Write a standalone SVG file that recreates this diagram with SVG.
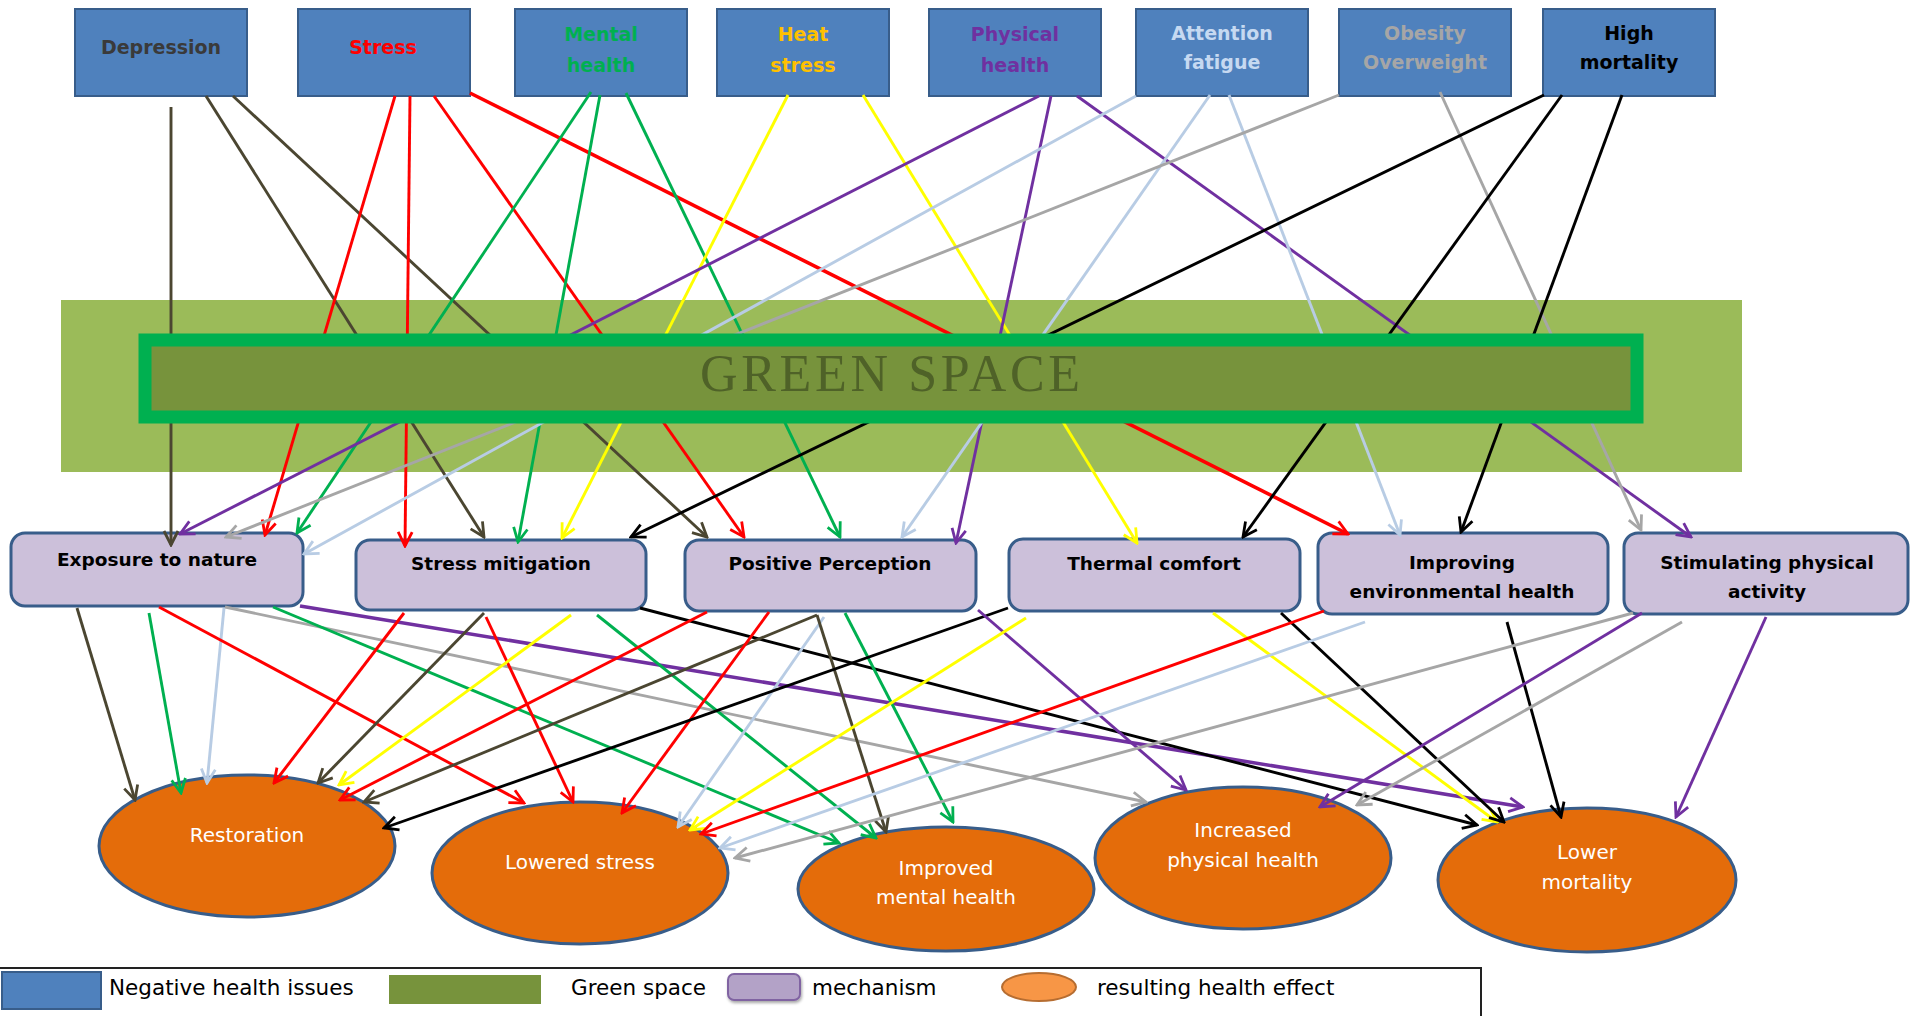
<svg xmlns="http://www.w3.org/2000/svg" width="1910" height="1016" viewBox="0 0 1910 1016">
<style>
.top rect{fill:#4f81bd;stroke:#385d8a;stroke-width:2}
.top text{font-family:"DejaVu Sans",sans-serif;font-weight:bold;font-size:19px;text-anchor:middle}
.mech rect{fill:#ccc0da;stroke:#385d8a;stroke-width:3}
.mech text{font-family:"DejaVu Sans",sans-serif;font-weight:bold;font-size:18.5px;text-anchor:middle;fill:#000}
.eff ellipse{fill:#e46c0a;stroke:#385d8a;stroke-width:3}
.eff text{font-family:"DejaVu Sans",sans-serif;font-size:20px;text-anchor:middle;fill:#fff}
.leg text{font-family:"DejaVu Sans",sans-serif;font-size:21.5px;fill:#000}
#connectors line{stroke-width:2.9;fill:none}
.ol{stroke:#4b4631}.rd{stroke:#ff0000}.gn{stroke:#00b050}.yw{stroke:#ffff00}.pu{stroke:#7030a0}.lb{stroke:#b8cce4}.gy{stroke:#a6a6a6}.bk{stroke:#000}
</style>
<defs>
<marker id="m-ol" markerUnits="userSpaceOnUse" markerWidth="20" markerHeight="20" viewBox="0 0 20 20" refX="18" refY="10" orient="auto"><path d="M4,3 L18,10 L4,17" fill="none" stroke="#4b4631" stroke-width="2.8"/></marker>
<marker id="m-rd" markerUnits="userSpaceOnUse" markerWidth="20" markerHeight="20" viewBox="0 0 20 20" refX="18" refY="10" orient="auto"><path d="M4,3 L18,10 L4,17" fill="none" stroke="#ff0000" stroke-width="2.8"/></marker>
<marker id="m-gn" markerUnits="userSpaceOnUse" markerWidth="20" markerHeight="20" viewBox="0 0 20 20" refX="18" refY="10" orient="auto"><path d="M4,3 L18,10 L4,17" fill="none" stroke="#00b050" stroke-width="2.8"/></marker>
<marker id="m-yw" markerUnits="userSpaceOnUse" markerWidth="20" markerHeight="20" viewBox="0 0 20 20" refX="18" refY="10" orient="auto"><path d="M4,3 L18,10 L4,17" fill="none" stroke="#ffff00" stroke-width="2.8"/></marker>
<marker id="m-pu" markerUnits="userSpaceOnUse" markerWidth="20" markerHeight="20" viewBox="0 0 20 20" refX="18" refY="10" orient="auto"><path d="M4,3 L18,10 L4,17" fill="none" stroke="#7030a0" stroke-width="2.8"/></marker>
<marker id="m-lb" markerUnits="userSpaceOnUse" markerWidth="20" markerHeight="20" viewBox="0 0 20 20" refX="18" refY="10" orient="auto"><path d="M4,3 L18,10 L4,17" fill="none" stroke="#b8cce4" stroke-width="2.8"/></marker>
<marker id="m-gy" markerUnits="userSpaceOnUse" markerWidth="20" markerHeight="20" viewBox="0 0 20 20" refX="18" refY="10" orient="auto"><path d="M4,3 L18,10 L4,17" fill="none" stroke="#a6a6a6" stroke-width="2.8"/></marker>
<marker id="m-bk" markerUnits="userSpaceOnUse" markerWidth="20" markerHeight="20" viewBox="0 0 20 20" refX="18" refY="10" orient="auto"><path d="M4,3 L18,10 L4,17" fill="none" stroke="#000" stroke-width="2.8"/></marker>
<filter id="sh" x="-20%" y="-20%" width="140%" height="160%"><feDropShadow dx="1" dy="2" stdDeviation="1.5" flood-color="#000" flood-opacity="0.35"/></filter>
</defs>
<rect width="1910" height="1016" fill="#fff"/>

<g id="green-band"><rect x="61" y="300" width="1681" height="172" fill="#9bbb59"/></g>

<g id="depression" class="top"><rect x="75" y="9" width="172" height="87"/><text x="161" y="54" fill="#3a3a3a">Depression</text></g>
<g id="stress" class="top"><rect x="298" y="9" width="172" height="87"/><text x="383" y="54" fill="#ff0000">Stress</text></g>
<g id="mental-health" class="top"><rect x="515" y="9" width="172" height="87"/><text x="601" y="41" fill="#00b050">Mental</text><text x="601" y="72" fill="#00b050">health</text></g>
<g id="heat-stress" class="top"><rect x="717" y="9" width="172" height="87"/><text x="803" y="41" fill="#ffc000">Heat</text><text x="803" y="72" fill="#ffc000">stress</text></g>
<g id="physical-health" class="top"><rect x="929" y="9" width="172" height="87"/><text x="1015" y="41" fill="#7030a0">Physical</text><text x="1015" y="72" fill="#7030a0">health</text></g>
<g id="attention-fatigue" class="top"><rect x="1136" y="9" width="172" height="87"/><text x="1222" y="40" fill="#c6d9f1">Attention</text><text x="1222" y="69" fill="#c6d9f1">fatigue</text></g>
<g id="obesity" class="top"><rect x="1339" y="9" width="172" height="87"/><text x="1425" y="40" fill="#a6a6a6">Obesity</text><text x="1425" y="69" fill="#a6a6a6">Overweight</text></g>
<g id="high-mortality" class="top"><rect x="1543" y="9" width="172" height="87"/><text x="1629" y="40" fill="#000">High</text><text x="1629" y="69" fill="#000">mortality</text></g>

<g id="exposure" class="mech"><rect x="11" y="533" width="292" height="73" rx="14"/><text x="157" y="566">Exposure to nature</text></g>
<g id="stress-mitigation" class="mech"><rect x="356" y="540" width="290" height="70" rx="14"/><text x="501" y="570">Stress mitigation</text></g>
<g id="positive-perception" class="mech"><rect x="685" y="540" width="291" height="71" rx="14"/><text x="830" y="570">Positive Perception</text></g>
<g id="thermal-comfort" class="mech"><rect x="1009" y="539" width="291" height="72" rx="14"/><text x="1154" y="570">Thermal comfort</text></g>
<g id="improving-env" class="mech"><rect x="1318" y="533" width="290" height="81" rx="14"/><text x="1462" y="569">Improving</text><text x="1462" y="598">environmental health</text></g>
<g id="stimulating" class="mech"><rect x="1624" y="533" width="284" height="81" rx="14"/><text x="1767" y="569">Stimulating physical</text><text x="1767" y="598">activity</text></g>

<g id="restoration" class="eff"><ellipse cx="247" cy="846" rx="148" ry="71"/><text x="247" y="842">Restoration</text></g>
<g id="lowered-stress" class="eff"><ellipse cx="580" cy="873" rx="148" ry="71"/><text x="580" y="869">Lowered stress</text></g>
<g id="improved-mental" class="eff"><ellipse cx="946" cy="889" rx="148" ry="62"/><text x="946" y="875">Improved</text><text x="946" y="904">mental health</text></g>
<g id="increased-physical" class="eff"><ellipse cx="1243" cy="858" rx="148" ry="71"/><text x="1243" y="837">Increased</text><text x="1243" y="867">physical health</text></g>
<g id="lower-mortality" class="eff"><ellipse cx="1587" cy="880" rx="149" ry="72"/><text x="1587" y="859">Lower</text><text x="1587" y="889">mortality</text></g>

<g id="connectors">
<line class="ol" x1="171" y1="107" x2="171" y2="545" marker-end="url(#m-ol)"/>
<line class="ol" x1="206" y1="96" x2="484" y2="537" marker-end="url(#m-ol)"/>
<line class="ol" x1="233" y1="96" x2="707" y2="537" marker-end="url(#m-ol)"/>
<line class="rd" x1="395" y1="96" x2="265" y2="535" marker-end="url(#m-rd)"/>
<line class="rd" x1="410" y1="96" x2="405" y2="546" marker-end="url(#m-rd)"/>
<line class="rd" x1="434" y1="96" x2="744" y2="537" marker-end="url(#m-rd)"/>
<line class="rd" x1="470" y1="93" x2="1348" y2="534" style="stroke-width:3.6" marker-end="url(#m-rd)"/>
<line class="gn" x1="591" y1="92" x2="297" y2="533" marker-end="url(#m-gn)"/>
<line class="gn" x1="600" y1="95" x2="518" y2="542" marker-end="url(#m-gn)"/>
<line class="gn" x1="626" y1="93" x2="840" y2="537" marker-end="url(#m-gn)"/>
<line class="yw" x1="788" y1="95" x2="562" y2="538" marker-end="url(#m-yw)"/>
<line class="yw" x1="863" y1="95" x2="1137" y2="543" marker-end="url(#m-yw)"/>
<line class="pu" x1="1039" y1="96" x2="180" y2="534" marker-end="url(#m-pu)"/>
<line class="pu" x1="1051" y1="96" x2="956" y2="543" marker-end="url(#m-pu)"/>
<line class="pu" x1="1077" y1="96" x2="1691" y2="537" marker-end="url(#m-pu)"/>
<line class="lb" x1="1136" y1="96" x2="304" y2="554" marker-end="url(#m-lb)"/>
<line class="lb" x1="1210" y1="95" x2="902" y2="537" marker-end="url(#m-lb)"/>
<line class="lb" x1="1229" y1="95" x2="1400" y2="535" marker-end="url(#m-lb)"/>
<line class="gy" x1="1339" y1="95" x2="226" y2="537" marker-end="url(#m-gy)"/>
<line class="gy" x1="1440" y1="92" x2="1641" y2="530" marker-end="url(#m-gy)"/>
<line class="bk" x1="1544" y1="95" x2="631" y2="537" marker-end="url(#m-bk)"/>
<line class="bk" x1="1562" y1="95" x2="1243" y2="537" marker-end="url(#m-bk)"/>
<line class="bk" x1="1622" y1="95" x2="1461" y2="532" marker-end="url(#m-bk)"/>

<line class="ol" x1="77" y1="608" x2="135" y2="800" marker-end="url(#m-ol)"/>
<line class="gn" x1="149" y1="613" x2="181" y2="793" marker-end="url(#m-gn)"/>
<line class="lb" x1="224" y1="608" x2="207" y2="783" marker-end="url(#m-lb)"/>
<line class="rd" x1="159" y1="607" x2="524" y2="803" marker-end="url(#m-rd)"/>
<line class="gy" x1="225" y1="607" x2="1146" y2="802" marker-end="url(#m-gy)"/>
<line class="gn" x1="273" y1="607" x2="839" y2="843" marker-end="url(#m-gn)"/>
<line class="pu" x1="300" y1="606" x2="1523" y2="807" style="stroke-width:3.6" marker-end="url(#m-pu)"/>
<line class="rd" x1="404" y1="613" x2="274" y2="783" marker-end="url(#m-rd)"/>
<line class="ol" x1="484" y1="613" x2="318" y2="783" marker-end="url(#m-ol)"/>
<line class="rd" x1="486" y1="617" x2="573" y2="802" marker-end="url(#m-rd)"/>
<line class="yw" x1="571" y1="615" x2="339" y2="785" marker-end="url(#m-yw)"/>
<line class="gn" x1="597" y1="615" x2="876" y2="838" marker-end="url(#m-gn)"/>
<line class="bk" x1="640" y1="608" x2="1477" y2="825" marker-end="url(#m-bk)"/>
<line class="rd" x1="707" y1="612" x2="340" y2="800" marker-end="url(#m-rd)"/>
<line class="ol" x1="817" y1="615" x2="364" y2="802" marker-end="url(#m-ol)"/>
<line class="rd" x1="769" y1="612" x2="622" y2="813" marker-end="url(#m-rd)"/>
<line class="lb" x1="824" y1="617" x2="678" y2="827" marker-end="url(#m-lb)"/>
<line class="ol" x1="817" y1="615" x2="886" y2="832" marker-end="url(#m-ol)"/>
<line class="gn" x1="845" y1="613" x2="953" y2="822" marker-end="url(#m-gn)"/>
<line class="bk" x1="1008" y1="608" x2="384" y2="828" marker-end="url(#m-bk)"/>
<line class="pu" x1="978" y1="610" x2="1186" y2="790" marker-end="url(#m-pu)"/>
<line class="yw" x1="1026" y1="618" x2="690" y2="830" marker-end="url(#m-yw)"/>
<line class="yw" x1="1213" y1="613" x2="1497" y2="822" marker-end="url(#m-yw)"/>
<line class="bk" x1="1281" y1="613" x2="1504" y2="822" marker-end="url(#m-bk)"/>
<line class="rd" x1="1324" y1="611" x2="701" y2="834" marker-end="url(#m-rd)"/>
<line class="lb" x1="1365" y1="622" x2="720" y2="848" marker-end="url(#m-lb)"/>
<line class="bk" x1="1507" y1="622" x2="1561" y2="817" marker-end="url(#m-bk)"/>
<line class="gy" x1="1633" y1="613" x2="735" y2="858" marker-end="url(#m-gy)"/>
<line class="pu" x1="1642" y1="613" x2="1320" y2="807" marker-end="url(#m-pu)"/>
<line class="gy" x1="1682" y1="622" x2="1357" y2="805" marker-end="url(#m-gy)"/>
<line class="pu" x1="1766" y1="617" x2="1676" y2="817" marker-end="url(#m-pu)"/>
</g>

<g id="green-space">
<rect x="145" y="340" width="1492" height="77" fill="#77933c" stroke="#00b050" stroke-width="13"/>
<text x="890" y="391" font-family="'Liberation Serif',serif" font-size="52" fill="#4f6228" text-anchor="middle" textLength="380" lengthAdjust="spacing">GREEN SPACE</text>
</g>

<g id="legend" class="leg">
<rect x="-2" y="968" width="1483" height="60" fill="#fff" stroke="#222" stroke-width="2"/>
<rect x="2" y="972" width="99" height="37" fill="#4f81bd" stroke="#385d8a" stroke-width="2"/>
<text x="109" y="995">Negative health issues</text>
<rect x="389" y="975" width="152" height="29" fill="#77933c"/>
<text x="571" y="995">Green space</text>
<rect x="728" y="974" width="72" height="26" rx="6" fill="#b3a2c7" stroke="#8064a2" stroke-width="2" filter="url(#sh)"/>
<text x="812" y="995">mechanism</text>
<ellipse cx="1039" cy="987" rx="37" ry="14" fill="#f79646" stroke="#b66d31" stroke-width="2"/>
<text x="1097" y="995">resulting health effect</text>
</g>
</svg>
